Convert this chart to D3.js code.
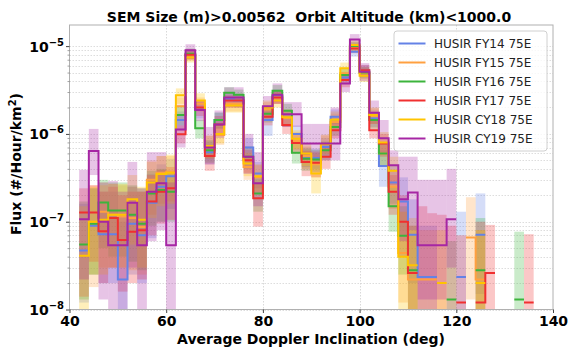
<!DOCTYPE html>
<html>
<head>
<meta charset="utf-8">
<script src="https://cdn.jsdelivr.net/npm/d3@7"></script>
<style>
  body { margin: 0; background: #fff; }
  svg { font-family: "DejaVu Sans", sans-serif; }
</style>
</head>
<body>
<svg id="chart"></svg>
<script>
// bin left edges (deg), each bin is 2 deg wide
let bins = [42, 44, 46, 48, 50, 52, 54, 56, 58, 60, 62, 64, 66, 68, 70, 72, 74, 76, 78, 80,
  82, 84, 86, 88, 90, 92, 94, 96, 98, 100, 102, 104, 106, 108, 110, 112, 114, 116, 118, 120,
  122, 124, 126, 128, 130, 132, 134];

let seriesNames = ["HUSIR FY14 75E", "HUSIR FY15 75E", "HUSIR FY16 75E", "HUSIR FY17 75E", "HUSIR CY18 75E", "HUSIR CY19 75E"];
let seriesColors = ["#6482e6", "#ffa040", "#3cb43c", "#f03030", "#ffc400", "#a626a4"];

let fy14 = [4.7e-8, 9e-8, 7.2e-8, 7.2e-8, 2.2e-8, 9.5e-8, 7e-8, 1.64e-7, 2.5e-7, 3.3e-7,
  1.44e-6, 8.0e-6, 1.9e-6, 6.2e-7, 1.44e-6, 2.5e-6, 2.4e-6, 7e-7, 3.55e-7, 1.44e-6,
  2.7e-6, 1.5e-6, 1.0e-6, 5.5e-7, 5.3e-7, 7.1e-7, 1.57e-6, 4.4e-6, 8.6e-6, 5.3e-6,
  1.5e-6, 4.3e-7, 2.8e-7, 1.7e-7, 7.1e-8, 2.35e-8, 2.35e-8, null, null, 2.35e-8,
  null, 7.1e-8, null, null, null, null, null];
let fy14Lo = [1.2e-8, 2.5e-8, 2e-8, 2e-8, 5e-9, 2.5e-8, 2e-8, 6.5e-8, 1e-7, 1.4e-7,
  1.1e-6, 7e-6, 1.5e-6, 4.5e-7, 1.15e-6, 2.1e-6, 2e-6, 5.3e-7, 2.4e-7, 9.5e-7,
  2.3e-6, 1.2e-6, 7.8e-7, 4.2e-7, 4e-7, 5.5e-7, 1.3e-6, 3.8e-6, 7.6e-6, 4.5e-6,
  1.2e-6, 2.5e-7, 1.6e-7, 7e-8, 2e-8, 5e-9, 5e-9, null, null, 5e-9,
  null, 1.5e-8, null, null, null, null, null];
let fy14Hi = [1.6e-7, 2.4e-7, 2.2e-7, 2.2e-7, 1e-7, 2.5e-7, 2.2e-7, 3.5e-7, 4.5e-7, 5.2e-7,
  1.8e-6, 9.2e-6, 2.3e-6, 8.2e-7, 1.75e-6, 2.9e-6, 2.8e-6, 9e-7, 4.8e-7, 1.8e-6,
  3.2e-6, 1.85e-6, 1.25e-6, 7e-7, 6.8e-7, 9e-7, 1.9e-6, 5.1e-6, 9.7e-6, 6.1e-6,
  1.85e-6, 6.5e-7, 4.4e-7, 3.2e-7, 1.8e-7, 9e-8, 9e-8, null, null, 1.3e-7,
  null, 2.1e-7, null, null, null, null, null];

let fy15 = [null, 1.0e-7, 1.3e-7, 1.2e-7, 1.15e-7, 1.1e-7, 8.7e-8, 3e-7, 3.6e-7, 3.7e-7,
  2.07e-6, 7.8e-6, 2.2e-6, 7.2e-7, 9.7e-7, 2.2e-6, 2.2e-6, 4.2e-7, 3.2e-7, 1.9e-6,
  2.6e-6, 1.5e-6, 8.3e-7, 5.6e-7, 4.5e-7, 7.7e-7, 1.37e-6, 4.9e-6, 9.8e-6, 4.9e-6,
  1.6e-6, 6e-7, 2.5e-7, 4.4e-8, 2.2e-8, 2.2e-8, 2.2e-8, null, null, null,
  6.6e-8, 2.2e-8, null, null, null, null, null];
let fy15Lo = [null, 1.8e-8, 3e-8, 3e-8, 3e-8, 2.8e-8, 2.5e-8, 1.2e-7, 1.6e-7, 1.7e-7,
  1.6e-6, 6.8e-6, 1.8e-6, 5.2e-7, 7.5e-7, 1.8e-6, 1.8e-6, 3e-7, 2.1e-7, 1.5e-6,
  2.2e-6, 1.2e-6, 6.5e-7, 4e-7, 3.2e-7, 6e-7, 1.1e-6, 4.2e-6, 8.7e-6, 4.2e-6,
  1.3e-6, 4.3e-7, 1.4e-7, 1.2e-8, 5e-9, 5e-9, 5e-9, null, null, null,
  1.3e-8, 5e-9, null, null, null, null, null];
let fy15Hi = [null, 2.6e-7, 2.8e-7, 2.7e-7, 2.6e-7, 2.5e-7, 2.2e-7, 5e-7, 5.6e-7, 5.6e-7,
  2.6e-6, 9e-6, 2.6e-6, 9.5e-7, 1.2e-6, 2.6e-6, 2.6e-6, 5.6e-7, 4.4e-7, 2.3e-6,
  3.1e-6, 1.85e-6, 1.05e-6, 7.2e-7, 6e-7, 9.6e-7, 1.7e-6, 5.7e-6, 1.1e-5, 5.7e-6,
  1.95e-6, 8e-7, 3.9e-7, 1.3e-7, 8e-8, 8e-8, 8e-8, null, null, null,
  1.9e-7, 8e-8, null, null, null, null, null];

let fy16 = [5.5e-8, 9.5e-8, 1.66e-7, 1.34e-7, 1.34e-7, 1.2e-7, 9.5e-8, 2.1e-7, 2.3e-7, 2.2e-7,
  1.64e-6, 8.2e-6, 1.16e-6, 6.5e-7, 1.44e-6, 2.94e-6, 2.8e-6, 5.5e-7, 2.1e-7, 1.7e-6,
  3.1e-6, 1.83e-6, 6.1e-7, 5.2e-7, 5.1e-7, 6.5e-7, 1.2e-6, 4.7e-6, 1.0e-5, 5.0e-6,
  1.44e-6, 6e-7, 1.5e-7, 6.9e-8, 2.8e-8, null, null, null, 1.3e-8, null,
  null, 2.8e-8, null, null, null, 1.3e-8, null];
let fy16Lo = [1.3e-8, 2.5e-8, 5e-8, 4e-8, 4e-8, 3.5e-8, 2.8e-8, 9e-8, 1e-7, 1e-7,
  1.25e-6, 7.2e-6, 8.9e-7, 4.7e-7, 1.15e-6, 2.5e-6, 2.4e-6, 4e-7, 1.3e-7, 1.35e-6,
  2.6e-6, 1.5e-6, 4.6e-7, 3.8e-7, 3.7e-7, 5e-7, 9.5e-7, 4e-6, 8.9e-6, 4.3e-6,
  1.15e-6, 4.2e-7, 7.7e-8, 2.5e-8, 6e-9, null, null, null, 3e-9, null,
  null, 6e-9, null, null, null, 3e-9, null];
let fy16Hi = [1.7e-7, 2.4e-7, 3e-7, 2.8e-7, 2.8e-7, 2.6e-7, 2.4e-7, 3.8e-7, 4e-7, 3.8e-7,
  2.1e-6, 9.4e-6, 1.45e-6, 8.5e-7, 1.75e-6, 3.4e-6, 3.2e-6, 7.2e-7, 3.1e-7, 2.1e-6,
  3.6e-6, 2.2e-6, 7.8e-7, 6.8e-7, 6.6e-7, 8.2e-7, 1.5e-6, 5.5e-6, 1.12e-5, 5.8e-6,
  1.75e-6, 8e-7, 2.5e-7, 1.5e-7, 9e-8, null, null, null, 6e-8, null,
  null, 1.1e-7, null, null, null, 7.7e-8, null];

let fy17 = [1.27e-7, 1.27e-7, 7.8e-8, 1.1e-7, 6.2e-8, 7.7e-8, 8e-8, 1.7e-7, 2.2e-7, 2.4e-7,
  9.9e-7, 8.0e-6, 2.0e-6, 5.6e-7, 1.28e-6, 2.4e-6, 2.4e-6, 5.0e-7, 1.85e-7, 1.57e-6,
  2.6e-6, 1.26e-6, 7.9e-7, 4.8e-7, 4.7e-7, 5.5e-7, 1.1e-6, 4.1e-6, 9.4e-6, 5.3e-6,
  1.1e-6, 7.8e-7, 2.2e-7, 1.0e-7, 2.6e-8, null, null, null, null, 1.2e-8,
  null, 1.2e-8, 2.6e-8, null, null, null, 1.2e-8];
let fy17Lo = [1.4e-8, 3.5e-8, 2e-8, 3e-8, 1.6e-8, 2e-8, 2.2e-8, 7e-8, 9.5e-8, 1.05e-7,
  7.8e-7, 7e-6, 1.6e-6, 3.8e-7, 1e-6, 2e-6, 2e-6, 3.6e-7, 8.8e-8, 1.25e-6,
  2.2e-6, 1e-6, 6e-7, 3.3e-7, 3.2e-7, 4e-7, 8.9e-7, 3.4e-6, 8.3e-6, 4.5e-6,
  8.9e-7, 5.5e-7, 1.2e-7, 4e-8, 6e-9, 5e-9, 5e-9, 5e-9, 5e-9, 3e-9,
  null, 3e-9, 6e-9, null, null, null, 3e-9];
let fy17Hi = [2.4e-7, 2.6e-7, 2.2e-7, 2.5e-7, 2e-7, 2.2e-7, 2.2e-7, 3.4e-7, 3.9e-7, 4.2e-7,
  1.25e-6, 9.2e-6, 2.4e-6, 7.5e-7, 1.6e-6, 2.8e-6, 2.8e-6, 6.6e-7, 2.7e-7, 1.95e-6,
  3.1e-6, 1.55e-6, 1e-6, 6.4e-7, 6.3e-7, 7.2e-7, 1.4e-6, 4.8e-6, 1.06e-5, 6.1e-6,
  1.4e-6, 1e-6, 3.4e-7, 2e-7, 9e-8, 1.5e-7, 1.25e-7, 1.2e-7, 9e-8, 7e-8,
  null, 1e-7, 9.2e-8, null, null, null, 7.2e-8];

let cy18 = [4.1e-8, 1.0e-7, 1.05e-7, 1.2e-7, 1.2e-7, 1.8e-7, 1.05e-7, 2.8e-7, 3.5e-7, 3.6e-7,
  2.76e-6, 7.4e-6, 2.4e-6, 7.3e-7, 1.0e-6, 2.1e-6, 2.1e-6, 4.6e-7, 3.3e-7, 2.0e-6,
  2.4e-6, 1.55e-6, 8.8e-7, 6.0e-7, 3.55e-7, 7.7e-7, 1.45e-6, 5.6e-6, 1.03e-5, 4.6e-6,
  1.64e-6, 8e-7, 3.8e-7, 4.0e-8, 3.2e-8, null, null, 2.0e-8, null, null,
  null, 2.0e-8, null, null, null, null, null];
let cy18Lo = [5e-9, 2.5e-8, 2.5e-8, 3e-8, 3e-8, 5.5e-8, 3e-8, 1.1e-7, 1.5e-7, 1.6e-7,
  2.2e-6, 6.5e-6, 2e-6, 5.3e-7, 7.8e-7, 1.75e-6, 1.75e-6, 3.3e-7, 2.2e-7, 1.6e-6,
  2e-6, 1.25e-6, 6.8e-7, 4.3e-7, 2.1e-7, 5.8e-7, 1.15e-6, 4.8e-6, 9.1e-6, 3.9e-6,
  1.3e-6, 5.8e-7, 2.2e-7, 5e-9, 6e-9, null, null, 4e-9, null, null,
  null, 4e-9, null, null, null, null, null];
let cy18Hi = [1.5e-7, 2.5e-7, 2.6e-7, 2.7e-7, 2.7e-7, 3.4e-7, 2.5e-7, 4.8e-7, 5.6e-7, 5.8e-7,
  3.3e-6, 8.5e-6, 2.9e-6, 9.6e-7, 1.25e-6, 2.5e-6, 2.5e-6, 6.1e-7, 4.5e-7, 2.4e-6,
  2.9e-6, 1.9e-6, 1.1e-6, 7.8e-7, 5e-7, 9.8e-7, 1.8e-6, 6.5e-6, 1.16e-5, 5.4e-6,
  2e-6, 1.05e-6, 5.5e-7, 1.3e-7, 1.1e-7, null, null, 8e-8, null, null,
  null, 8e-8, null, null, null, null, null];

let cy19 = [1.07e-7, 6.4e-7, 1.0e-7, 5.4e-8, 5.4e-8, 1.64e-7, 5.4e-8, 2.2e-7, 2.75e-7, 5.4e-8,
  1.12e-6, 9.0e-6, 1.87e-6, 7.0e-7, 1.28e-6, 2.6e-6, 2.6e-6, 5.5e-7, 2.75e-7, 2.07e-6,
  2.8e-6, 1.68e-6, 1.68e-6, 7.8e-7, 7.8e-7, 7.8e-7, 7.8e-7, 3.76e-6, 1.19e-5, 5.1e-6,
  1.74e-6, 8.9e-7, 4.4e-7, 1.8e-7, 2.15e-7, 5.4e-8, 5.4e-8, 5.4e-8, 1.07e-7, null,
  null, null, null, null, null, null, null];
let cy19Lo = [2.2e-8, 3.4e-7, 1.3e-8, 8e-9, 8e-9, 3e-8, 5e-9, 6e-8, 8e-8, 5e-9,
  7e-7, 7.2e-6, 1.4e-6, 4.5e-7, 9e-7, 2e-6, 2e-6, 3.5e-7, 1.5e-7, 1.5e-6,
  2.2e-6, 1.2e-6, 1.2e-6, 5e-7, 5e-7, 5e-7, 5e-7, 3e-6, 1e-5, 4e-6,
  1.3e-6, 6e-7, 2.6e-7, 6e-8, 8e-8, 1.3e-8, 1.3e-8, 1.3e-8, 3e-8, null,
  null, null, null, null, null, null, null];
let cy19Hi = [3.9e-7, 1.14e-6, 2.8e-7, 2.9e-7, 2.2e-7, 4.8e-7, 2.4e-7, 6.2e-7, 6.2e-7, 2.8e-7,
  1.6e-6, 1.05e-5, 2.4e-6, 1.2e-6, 1.85e-6, 3.4e-6, 3.4e-6, 1e-6, 6.2e-7, 2.7e-6,
  3.76e-6, 2.3e-6, 2.3e-6, 1.3e-6, 1.3e-6, 1.3e-6, 2e-6, 4.9e-6, 1.37e-5, 6.4e-6,
  2.4e-6, 1.44e-6, 6.5e-7, 5.5e-7, 5.5e-7, 3e-7, 3e-7, 3e-7, 4e-7, null,
  null, null, null, null, null, null, null];

let xTicks = [40, 60, 80, 100, 120, 140];
let yTickExps = [-8, -7, -6, -5];

let series = [
  { v: fy14, lo: fy14Lo, hi: fy14Hi },
  { v: fy15, lo: fy15Lo, hi: fy15Hi },
  { v: fy16, lo: fy16Lo, hi: fy16Hi },
  { v: fy17, lo: fy17Lo, hi: fy17Hi },
  { v: cy18, lo: cy18Lo, hi: cy18Hi },
  { v: cy19, lo: cy19Lo, hi: cy19Hi },
];

let width = 568;
let height = 350;
let plotLeft = 69.5, plotRight = 553, plotTop = 25, plotBottom = 309.5;

let svg = d3.select("#chart").attr("width", width).attr("height", height);

let xScale = d3.scaleLinear().domain([40, 140]).range([plotLeft, plotRight]);
let yScale = d3.scaleLog().domain([1e-8, 1.74e-5]).range([plotBottom, plotTop]);

svg.append("clipPath").attr("id", "plot-clip")
  .append("rect").attr("x", plotLeft).attr("y", plotTop)
  .attr("width", plotRight - plotLeft).attr("height", plotBottom - plotTop);

// grid
let minorVals = [];
yTickExps.forEach((e) => {
  for (let m = 1; m <= 9; m++) {
    let val = m * Math.pow(10, e);
    if (val <= 1.74e-5) minorVals.push(val);
  }
});
let grid = svg.append("g");
grid.selectAll(".hgrid").data(minorVals).enter().append("line")
  .attr("x1", plotLeft).attr("x2", plotRight)
  .attr("y1", (d) => Math.round(yScale(d)) + 0.5)
  .attr("y2", (d) => Math.round(yScale(d)) + 0.5)
  .attr("stroke", "#d4d4d4").attr("stroke-width", 0.8)
  .attr("stroke-dasharray", "1.5,1.5");
grid.selectAll(".vgrid").data([60, 80, 100, 120]).enter().append("line")
  .attr("x1", (d) => Math.round(xScale(d)) + 0.5).attr("x2", (d) => Math.round(xScale(d)) + 0.5)
  .attr("y1", plotTop).attr("y2", plotBottom)
  .attr("stroke", "#cfcfcf").attr("stroke-width", 0.8)
  .attr("stroke-dasharray", "1.5,1.5");

let plot = svg.append("g").attr("clip-path", "url(#plot-clip)");

// error bands
series.forEach((s, si) => {
  let rects = [];
  bins.forEach((b, i) => {
    if (s.hi[i] != null) rects.push({ b: b, lo: s.lo[i], hi: s.hi[i] });
  });
  plot.append("g").selectAll("rect").data(rects).enter().append("rect")
    .attr("x", (d) => xScale(d.b))
    .attr("width", (d) => xScale(d.b + 2) - xScale(d.b))
    .attr("y", (d) => yScale(d.hi))
    .attr("height", (d) => yScale(Math.max(d.lo, 1e-9)) - yScale(d.hi))
    .attr("fill", seriesColors[si])
    .attr("fill-opacity", 0.27);
});

// step lines
series.forEach((s, si) => {
  let pts = [];
  bins.forEach((b, i) => {
    if (s.v[i] == null) {
      pts.push(null);
    } else {
      pts.push({ x: b, v: s.v[i] });
      pts.push({ x: b + 2, v: s.v[i] });
    }
  });
  let line = d3.line()
    .defined((d) => d != null)
    .x((d) => xScale(d.x))
    .y((d) => yScale(d.v));
  plot.append("path").attr("d", line(pts))
    .attr("fill", "none")
    .attr("stroke", seriesColors[si])
    .attr("stroke-width", 2);
});

// frame
svg.append("rect").attr("x", plotLeft).attr("y", plotTop)
  .attr("width", plotRight - plotLeft).attr("height", plotBottom - plotTop)
  .attr("fill", "none").attr("stroke", "#b0b0b0").attr("stroke-width", 1);

// axes
let xAxis = d3.axisBottom(xScale).tickValues(xTicks).tickSize(3.5).tickPadding(3);
let gx = svg.append("g").attr("transform", "translate(0," + plotBottom + ")").call(xAxis);
gx.select(".domain").remove();
gx.selectAll("line").attr("stroke", "#444");
gx.selectAll("text").attr("font-size", 14).attr("font-weight", "bold")
  .attr("font-family", "DejaVu Sans").attr("fill", "#000");

let yAxis = d3.axisLeft(yScale).tickValues(yTickExps.map((e) => Math.pow(10, e)))
  .tickSize(3.5).tickPadding(2).tickFormat("");
let gy = svg.append("g").attr("transform", "translate(" + plotLeft + ",0)").call(yAxis);
gy.select(".domain").remove();
gy.selectAll("line").attr("stroke", "#444");
gy.selectAll(".tick text").each(function (d) {
  let t = d3.select(this);
  t.attr("font-size", 14).attr("font-weight", "bold").attr("font-family", "DejaVu Sans")
    .attr("fill", "#000").attr("dy", "0.36em");
  t.append("tspan").text("10");
  t.append("tspan").text("\u2212" + Math.abs(Math.round(Math.log10(d))))
    .attr("font-size", 10).attr("dy", "-0.6em");
});

let yMinor = d3.axisLeft(yScale).tickValues(minorVals.filter((v) => !yTickExps.some((e) => Math.abs(v - Math.pow(10, e)) < 1e-12)))
  .tickSize(2).tickFormat("");
let gym = svg.append("g").attr("transform", "translate(" + plotLeft + ",0)").call(yMinor);
gym.select(".domain").remove();
gym.selectAll("line").attr("stroke", "#666").attr("stroke-width", 0.6);

// title and labels
svg.append("text").attr("x", 309).attr("y", 21.5).attr("text-anchor", "middle")
  .attr("font-size", 14).attr("font-weight", "bold")
  .style("white-space", "pre")
  .text("SEM Size (m)>0.00562  Orbit Altitude (km)<1000.0");

svg.append("text").attr("x", 311).attr("y", 344).attr("text-anchor", "middle")
  .attr("font-size", 14).attr("font-weight", "bold")
  .text("Average Doppler Inclination (deg)");

let yl = svg.append("text").attr("transform", "translate(21,164) rotate(-90)")
  .attr("text-anchor", "middle").attr("font-size", 14).attr("font-weight", "bold");
yl.append("tspan").text("Flux (#/Hour/km");
yl.append("tspan").text("2").attr("font-size", 10).attr("dy", "-0.5em");
yl.append("tspan").text(")").attr("dy", "0.35em");

// legend
let legend = svg.append("g");
legend.append("rect").attr("x", 394).attr("y", 31).attr("width", 153).attr("height", 120)
  .attr("rx", 3).attr("fill", "#fff").attr("fill-opacity", 0.8)
  .attr("stroke", "#d0d0d0").attr("stroke-width", 1);
seriesNames.forEach((name, i) => {
  let yy = 43.5 + i * 19;
  legend.append("line").attr("x1", 398.5).attr("x2", 425.5).attr("y1", yy).attr("y2", yy)
    .attr("stroke", seriesColors[i]).attr("stroke-width", 2);
  legend.append("text").attr("x", 434).attr("y", yy + 4.5)
    .attr("font-size", 12).attr("fill", "#222").text(name);
});
</script>
</body>
</html>
